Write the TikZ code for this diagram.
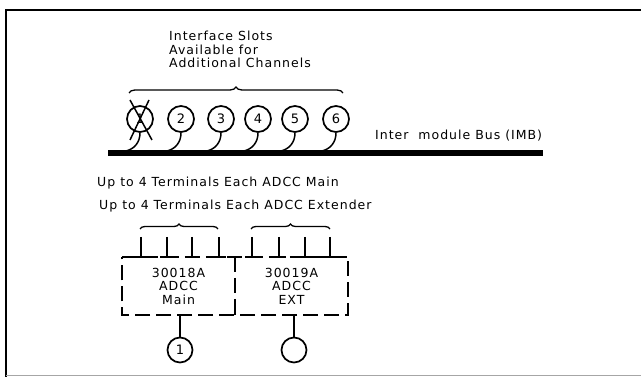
\documentclass[tikz,border=0pt]{standalone}
\usepackage{fontspec}
\newfontfamily\lblfont[LetterSpace=8]{DejaVu Sans}
\newfontfamily\numfont{DejaVu Sans}
\usetikzlibrary{decorations.pathreplacing,calc}
\tikzset{
  lbl/.style={font=\lblfont\fontsize{12.5}{13.5}\selectfont, inner sep=0pt, align=left},
  slot/.style={circle, draw, line width=1.7pt, minimum size=26pt, inner sep=0pt,
    font=\numfont\fontsize{13}{13}\selectfont},
  card/.style={minimum width=113pt, minimum height=58pt, inner sep=0pt, align=center,
    font=\lblfont\fontsize{12.5}{13.5}\selectfont},
  cardbox/.style={line width=1.5pt, dash pattern=on 15pt off 6pt},
  wire/.style={line width=1.5pt},
  bus/.style={line width=6pt},
  grp/.style={decorate, decoration={brace, amplitude=6pt}, line width=1.3pt}
}

\begin{document}
\begin{tikzpicture}[x=1pt,y=-1pt]
\useasboundingbox (0,0) rectangle (641,377);
% frame
\draw[line width=2pt] (641,10) -- (6,10) -- (6,377);
\draw[black!35, line width=0.8pt] (6,375.5) -- (641,375.5);
% interface slots on the bus
\node[lbl, anchor=north west] (slotlbl) at (169,31) {Interface Slots\\Available for\\Additional Channels};
\coordinate (busL) at (108,153);
\coordinate (busR) at (543,153);
\draw[bus] (busL) -- (busR);
\node[lbl, anchor=west] (buslbl) at (375,136) {Inter\ \ module Bus (IMB)};
\foreach \n/\x in {1/140,2/181,3/221,4/258,5/295,6/336}{
  \node[slot] (s\n) at (\x,119) {\n};
  \coordinate (tap\n) at (\x-14,151);
  \draw[wire] (s\n.south) .. controls +(0,10) and +(8,-2) .. (tap\n);
}
\draw[wire] ($(s1)+(-10,-19)$) -- ($(s1)+(12,21)$);
\draw[wire] ($(s1)+(9,-19)$) -- ($(s1)+(-10,21)$);
\coordinate (slotsL) at (129,93);
\coordinate (slotsR) at (343,93);
\draw[grp] (slotsL) -- (slotsR);
% ADCC main and extender
\node[lbl, anchor=west] (mainlbl) at (97,183) {Up to 4 Terminals Each ADCC Main};
\node[lbl, anchor=west] (extlbl) at (99,206) {Up to 4 Terminals Each ADCC Extender};
\coordinate (termAL) at (140,229);
\coordinate (termAR) at (218,229);
\coordinate (termBL) at (251,229);
\coordinate (termBR) at (330,229);
\draw[grp, decoration={amplitude=5pt}] (termAL) -- (termAR);
\draw[grp, decoration={amplitude=5pt}] (termBL) -- (termBR);
\node[card] (main) at (178.5,286) {30018A\\ADCC\\Main};
\node[card] (ext) at (291.5,286) {30019A\\ADCC\\EXT};
\draw[cardbox] (main.north west) -- (ext.north east) -- (ext.south east) -- (main.south west) -- cycle;
\draw[cardbox] (main.north east) -- (main.south east);
\draw[wire] (main.north east) -- ++(0,5);
\draw[wire] (main.south east) -- ++(0,-6);
\foreach \i/\x in {1/141,2/167,3/192,4/219,5/252,6/279,7/305,8/330}{
  \coordinate (tt\i) at (\x,237);
  \coordinate (tb\i) at (\x,257);
  \draw[wire] (tt\i) -- (tb\i);
  \draw[wire] ([xshift=-7pt]tb\i) -- ([xshift=7pt]tb\i);
}
\node[slot, minimum size=25pt] (p1) at (180,350) {1};
\node[slot, minimum size=25pt] (p2) at (294,350) {};
\draw[wire] (main.south -| p1) -- (p1);
\draw[wire] (ext.south -| p2) -- (p2);
\end{tikzpicture}
\end{document}
